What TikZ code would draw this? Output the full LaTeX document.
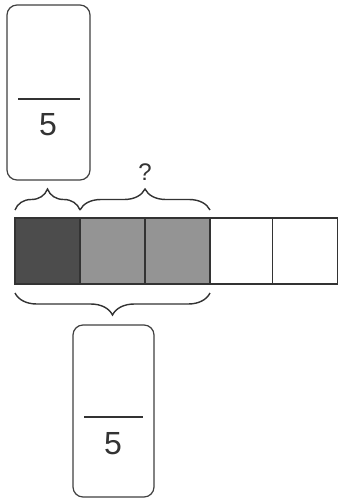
\documentclass[tikz,border=0pt]{standalone}
\usepackage{fontspec}
\setmainfont{Liberation Sans}
\usetikzlibrary{decorations.pathreplacing}
\begin{document}
\begin{tikzpicture}[x=1pt,y=-1pt,
  cardbox/.style={draw=black!75, line width=1.2pt, rounded corners=10pt, inner sep=0pt, fill=white},
  cell/.style={draw=black!80, line width=1.5pt, minimum width=65pt, minimum height=66pt, inner sep=0pt},
  bracket/.style={draw=black!80, line width=1.4pt, decorate, decoration={brace, amplitude=21pt}},
  fracbar/.style={draw=black!80, line width=1.6pt},
  digit/.style={font=\fontsize{32}{32}\selectfont, text=black!80, inner sep=0pt}
]
\useasboundingbox (0,0) rectangle (338,501);

% answer cards
\node[cardbox, minimum width=83pt, minimum height=175pt] (cardtop) at (48.5,92.5) {};
\node[cardbox, minimum width=81pt, minimum height=172pt] (cardbot) at (113.5,411) {};

% fraction bars and denominators
\draw[fracbar] (18,99) -- (80,99);
\node[digit] (dentop) at (48,124.5) {5};
\draw[fracbar] (84,417) -- (143,417);
\node[digit] (denbot) at (113,443.5) {5};

% the strip of fifths
\node[cell, fill=black!70] (c1) at (47.5,251) {};
\node[cell, fill=black!42] (c2) at (112.5,251) {};
\node[cell, fill=black!42] (c3) at (177.5,251) {};
\node[cell, fill=white] (c4) at (242.5,251) {};
\node[cell, fill=white] (c5) at (305,251) {};

% braces
\coordinate (b0) at (15,210);
\coordinate (b1) at (80,210);
\coordinate (b2) at (210,210);
\draw[bracket] (b0) -- (b1);
\draw[bracket] (b1) -- (b2);
\coordinate (d0) at (15,293);
\coordinate (d1) at (210,293);
\draw[bracket, decoration={brace, mirror, amplitude=22pt}] (d0) -- (d1);

\node[font=\fontsize{24}{24}\selectfont, text=black!80, inner sep=0pt] (q) at (145,172) {?};
\end{tikzpicture}
\end{document}
